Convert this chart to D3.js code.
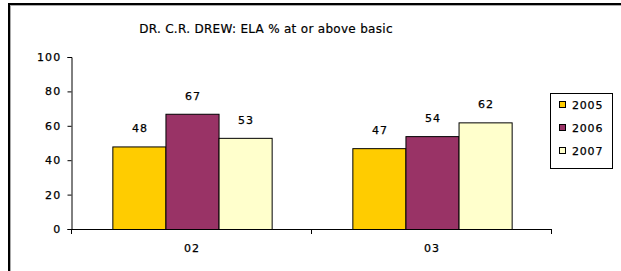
<!DOCTYPE html>
<html><head><meta charset="utf-8">
<script src="https://cdn.jsdelivr.net/npm/d3@7"></script>
<style>html,body{margin:0;padding:0;background:#fff;}svg{display:block;}</style>
</head><body>
<script>
const categories = ["02", "03"];
const seriesNames = ["2005", "2006", "2007"];
const values2005 = [48, 47];
const values2006 = [67, 54];
const values2007 = [53, 62];
const yTicks = [0, 20, 40, 60, 80, 100];
const title = "DR. C.R. DREW: ELA % at or above basic";
const colors = ["#FFCC00", "#993366", "#FFFFCC"];

const series = [values2005, values2006, values2007];
const W = 621, H = 271;
const svg = d3.select("body").append("svg").attr("width", W).attr("height", H);
const font = "DejaVu Sans, Verdana, sans-serif";

// frame
svg.append("line").attr("x1", 8).attr("x2", W).attr("y1", 4).attr("y2", 4).attr("stroke", "#000").attr("stroke-width", 2);
svg.append("line").attr("x1", 10).attr("x2", W).attr("y1", 5.5).attr("y2", 5.5).attr("stroke", "#aaa").attr("stroke-width", 1);
svg.append("line").attr("x1", 9).attr("x2", 9).attr("y1", 3).attr("y2", H).attr("stroke", "#000").attr("stroke-width", 2);
svg.append("line").attr("x1", 10.5).attr("x2", 10.5).attr("y1", 5).attr("y2", H).attr("stroke", "#aaa").attr("stroke-width", 1);

const x0 = d3.scaleBand().domain(categories).range([72, 552]).paddingInner(0).paddingOuter(0);
const x1 = d3.scaleBand().domain(seriesNames).range([0, x0.bandwidth()]).paddingInner(0).paddingOuter(0.76);
const y = d3.scaleLinear().domain([0, 100]).range([229, 57]);

svg.append("text").attr("x", 266).attr("y", 33).attr("text-anchor", "middle")
  .attr("font-family", font).attr("font-size", 12).attr("letter-spacing", 0.3)
  .attr("stroke", "#000").attr("stroke-width", 0.2).text(title);

// y axis
const yAxis = svg.append("g").attr("transform", "translate(71.5,0)")
  .call(d3.axisLeft(y).tickValues(yTicks).tickSize(4).tickPadding(6));
yAxis.select(".domain").attr("stroke", "#000");
yAxis.selectAll("text").attr("font-family", font).attr("font-size", 11).attr("letter-spacing", 1.2)
  .attr("fill", "#000").attr("stroke", "#000").attr("stroke-width", 0.25);

// x axis
const xAxis = svg.append("g").attr("transform", "translate(0,229.5)")
  .call(d3.axisBottom(x0).tickSize(0).tickPadding(15));
xAxis.select(".domain").remove();
svg.append("line").attr("x1", 68).attr("x2", 552).attr("y1", 229.5).attr("y2", 229.5).attr("stroke", "#000");
[72, 312, 552].forEach(t => {
  svg.append("line").attr("x1", t - 0.5).attr("x2", t - 0.5).attr("y1", 229).attr("y2", 234).attr("stroke", "#000");
});
xAxis.selectAll("text").attr("font-family", font).attr("font-size", 11).attr("letter-spacing", 1)
  .attr("fill", "#000").attr("stroke", "#000").attr("stroke-width", 0.25);

// bars
categories.forEach((c, ci) => {
  seriesNames.forEach((s, si) => {
    const v = series[si][ci];
    const bx = x0(c) + x1(s);
    svg.append("rect").attr("x", bx + 0.5).attr("y", y(v) + 0.5)
      .attr("width", x1.bandwidth()).attr("height", y(0) - y(v))
      .attr("fill", colors[si]).attr("stroke", "#000").attr("stroke-width", 1);
    svg.append("text").attr("x", bx + x1.bandwidth() / 2 + 1).attr("y", y(v) - 14)
      .attr("text-anchor", "middle").attr("font-family", font).attr("font-size", 11)
      .attr("letter-spacing", 1).attr("stroke", "#000").attr("stroke-width", 0.25).text(v);
  });
});

// legend
const lg = svg.append("g");
lg.append("rect").attr("x", 550.5).attr("y", 93.5).attr("width", 62).attr("height", 75)
  .attr("fill", "#fff").attr("stroke", "#000");
seriesNames.forEach((s, i) => {
  const cy = 105 + i * 23;
  lg.append("rect").attr("x", 559.5).attr("y", cy - 3.5).attr("width", 6).attr("height", 6)
    .attr("fill", colors[i]).attr("stroke", "#000");
  lg.append("text").attr("x", 572).attr("y", cy + 4).attr("font-family", font).attr("font-size", 11)
    .attr("letter-spacing", 0.8).attr("stroke", "#000").attr("stroke-width", 0.25).text(s);
});
</script>
</body></html>
